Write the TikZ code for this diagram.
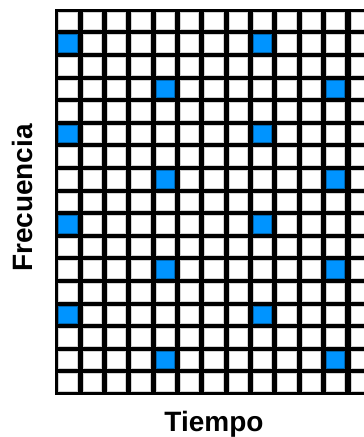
\documentclass[tikz,border=0pt]{standalone}
\usepackage{fontspec}
\setmainfont{Liberation Sans}
\definecolor{cellblue}{RGB}{0,148,255}
\begin{document}
\begin{tikzpicture}[
    x=1pt, y=-1pt,
    font=\fontsize{28}{30}\selectfont\bfseries,
    gridbg/.style={fill=black, draw=none},
    cell/.style={fill=white, draw=gray!35, line width=0.8pt},
    hit/.style={fill=cellblue, draw=cellblue!70!black, line width=0.8pt},
    axislabel/.style={anchor=base, inner sep=0pt}
]
\clip (0,0) rectangle (364,437);

% background of the grid
\fill[gridbg] (55,9.3) rectangle (380,395);

% cells: 13 columns x 17 rows
\foreach \c in {0,...,12}{
    \foreach \r in {0,...,16}{
        \draw[cell] ({58.7+24.35*\c},{12.1+22.6*\r}) rectangle ++(18.2,17.7);
    }
}

% occupied cells
\foreach \c/\r in {0/1,0/5,0/9,0/13,8/1,8/5,8/9,8/13,
                   4/3,4/7,4/11,4/15,11/3,11/7,11/11,11/15}{
    \draw[hit] ({58.7+24.35*\c},{12.1+22.6*\r}) rectangle ++(18.2,17.7);
}

\node[axislabel] (tiempo) at (214,431) {Tiempo};
\node[axislabel, rotate=90] (frecuencia) at (32,198) {Frecuencia};
\end{tikzpicture}
\end{document}
